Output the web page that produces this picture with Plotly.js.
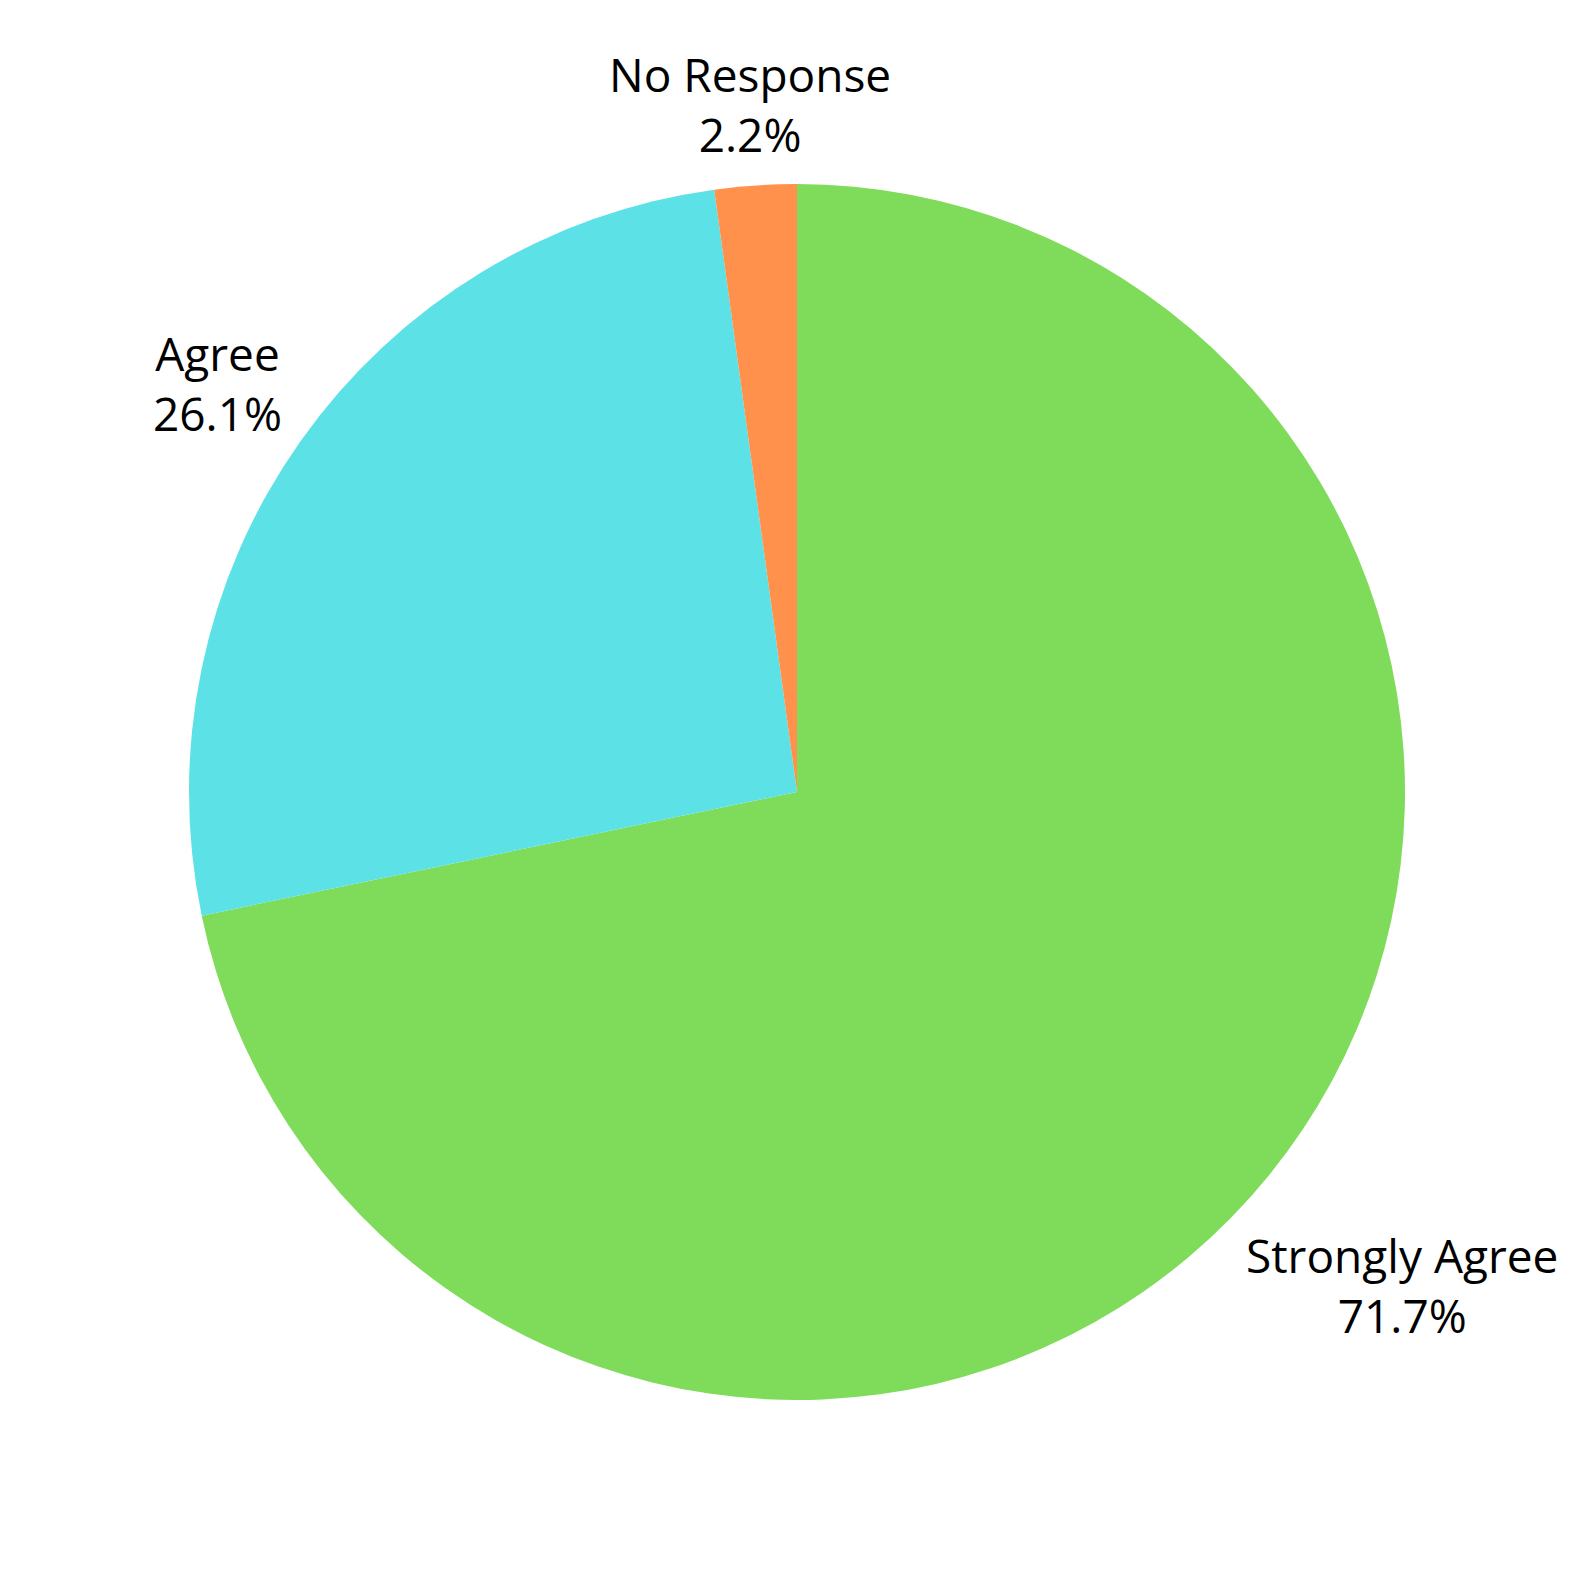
<!DOCTYPE html>
<html>
<head>
<meta charset="utf-8">
<script src="https://cdn.plot.ly/plotly-3.0.1.min.js"></script>
<style>
  html, body { margin: 0; padding: 0; background: #fff; overflow: hidden; }
  #divPlot { width: 1580px; height: 1580px; }
</style>
</head>
<body>
<div id="divPlot"></div>
<script>
// survey responses (counts out of 46)
const categories = [ 'Strongly Agree', 'Agree', 'No Response' ];
const counts = [ 33, 12, 1 ];
const sliceColors = [ '#7FDB5A', '#5CE1E6', '#FF914D' ];

const W = 1580, H = 1580;
const fontSize = 46;
const fontFamily = 'Open Sans';

// pie geometry in pixels
const cx = 797, cy = 792, R = 608;

const trace0 = {
  type : 'pie',
  labels : categories,
  values : counts,
  sort : false,
  direction : 'clockwise',
  rotation : 0,
  marker : {colors : sliceColors, line : {width : 0}},
  textinfo : 'none',
  domain : {
    x : [ (cx - R) / W, (cx + R) / W ],
    y : [ 1 - (cy + R) / H, 1 - (cy - R) / H ]
  },
  hoverinfo : 'none'
};

// labels sit outside each slice, along its mid angle
const ctx = document.createElement('canvas').getContext('2d');
ctx.font = fontSize + 'px "' + fontFamily + '"';
const total = counts.reduce((a, b) => a + b, 0);
let cum = 0;
const annotations = categories.map((name, i) => {
  const frac = counts[i] / total;
  const mid = (cum + frac / 2) * 2 * Math.PI;
  cum += frac;
  const pct = (frac * 100).toFixed(1) + '%';
  const hw = Math.max(ctx.measureText(name).width, ctx.measureText(pct).width) / 2;
  const hh = fontSize * 1.25;
  const s = Math.sin(mid), c = Math.cos(mid);
  const dist = R + 15 + hw * Math.abs(s) + hh * Math.abs(c);
  let px = cx + dist * s;
  const py = cy - dist * c;
  px = Math.min(Math.max(px, hw + 4), W - hw - 4);
  return {
    xref : 'paper',
    yref : 'paper',
    x : px / W,
    y : 1 - py / H,
    xanchor : 'center',
    yanchor : 'middle',
    showarrow : false,
    align : 'center',
    text : name + '<br>' + pct,
    font : {family : fontFamily, size : fontSize, color : '#000'}
  };
});

const layout = {
  width : W,
  height : H,
  margin : {l : 0, r : 0, b : 0, t : 0},
  showlegend : false,
  paper_bgcolor : '#fff',
  font : {family : fontFamily},
  annotations : annotations
};

Plotly.newPlot('divPlot', [ trace0 ], layout, {displayModeBar : false});
</script>
</body>
</html>
